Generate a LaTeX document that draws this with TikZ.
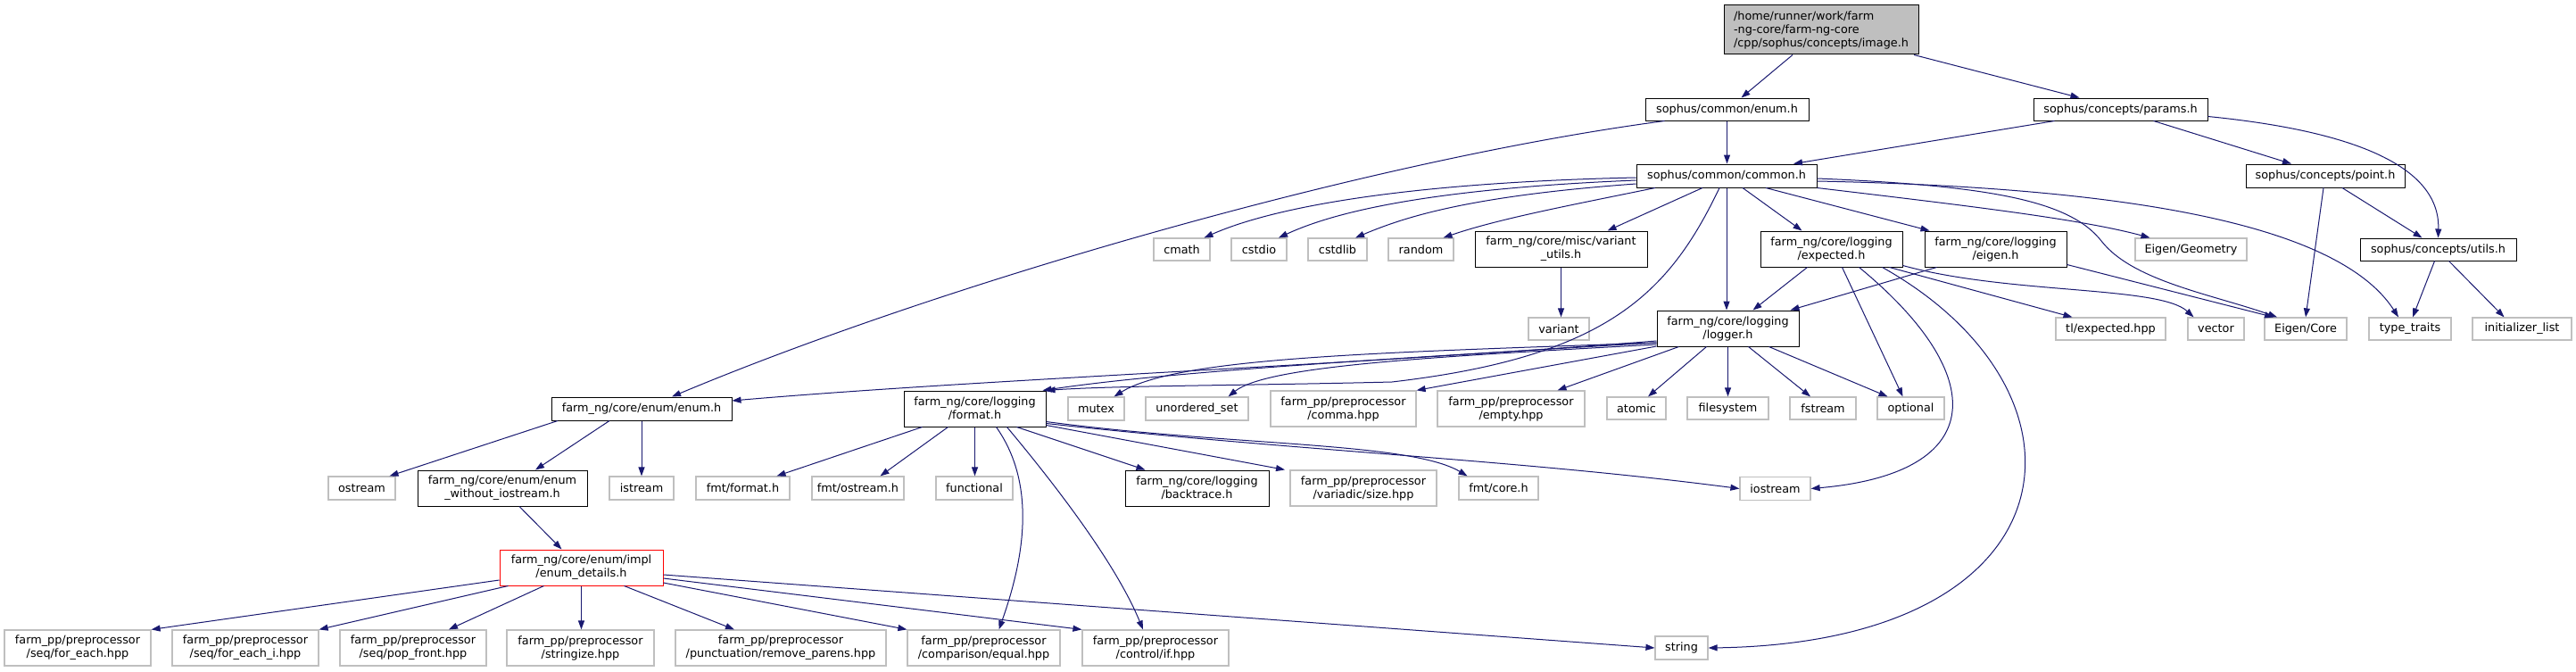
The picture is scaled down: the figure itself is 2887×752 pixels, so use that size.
\documentclass[tikz,border=0pt]{standalone}
\usepackage{fontspec}
\setmainfont{DejaVu Sans}
\usetikzlibrary{arrows.meta}
\definecolor{edgecol}{HTML}{191970}
\definecolor{graybd}{HTML}{BFBFBF}
\definecolor{rootfill}{HTML}{BFBFBF}
\newcommand\nodefont{\fontsize{12.8}{15}\selectfont}
\tikzset{
  base/.style={rectangle, inner sep=0pt, font=\nodefont, align=center, fill=white, line width=1pt},
  doc/.style={base, draw=black},
  ext/.style={base, draw=graybd, line width=1.2pt},
  redbox/.style={base, draw=red},
  rootbox/.style={base, draw=black, fill=rootfill, align=left},
  e/.style={draw=edgecol, line width=1pt, -{Triangle[length=10pt,width=7pt]}},
}
\begin{document}
\begin{tikzpicture}[x=1pt,y=-1pt]
\useasboundingbox (0,0) rectangle (2887,752);
\fill[white] (0,0) rectangle (2887,752);
% ---- nodes ----
\node[rootbox, minimum width=218, minimum height=55] (root) at (2041,33.5) {/home/runner/work/farm\\-ng-core/farm-ng-core\\/cpp/sophus/concepts/image.h};
\node[doc, minimum width=183, minimum height=25] (senum) at (1935.5,122.5) {sophus/common/enum.h};
\node[doc, minimum width=195, minimum height=25] (params) at (2376.5,122.5) {sophus/concepts/params.h};
\node[doc, minimum width=202, minimum height=26] (common) at (1935,197) {sophus/common/common.h};
\node[doc, minimum width=178, minimum height=26] (point) at (2606,197) {sophus/concepts/point.h};
\node[ext, minimum width=63, minimum height=25] (cmath) at (1324.5,279.5) {cmath};
\node[ext, minimum width=62, minimum height=25] (cstdio) at (1411,279.5) {cstdio};
\node[ext, minimum width=66, minimum height=25] (cstdlib) at (1499,279.5) {cstdlib};
\node[ext, minimum width=73, minimum height=25] (random) at (1592.5,279.5) {random};
\node[doc, minimum width=193, minimum height=40] (varutils) at (1749.5,279) {farm\_ng/core/misc/variant\\\_utils.h};
\node[doc, minimum width=159, minimum height=40] (expected) at (2052.5,279) {farm\_ng/core/logging\\/expected.h};
\node[doc, minimum width=159, minimum height=40] (eigenh) at (2236.5,279) {farm\_ng/core/logging\\/eigen.h};
\node[ext, minimum width=125, minimum height=25] (geometry) at (2455.5,279.5) {Eigen/Geometry};
\node[doc, minimum width=175, minimum height=25] (utils) at (2732.5,279.5) {sophus/concepts/utils.h};
\node[ext, minimum width=68, minimum height=25] (variant) at (1747,368.5) {variant};
\node[doc, minimum width=159, minimum height=40] (logger) at (1936.5,368) {farm\_ng/core/logging\\/logger.h};
\node[ext, minimum width=123, minimum height=25] (tlexp) at (2365.5,368.5) {tl/expected.hpp};
\node[ext, minimum width=63, minimum height=25] (vector) at (2483.5,368.5) {vector};
\node[ext, minimum width=92, minimum height=25] (eigencore) at (2584,368.5) {Eigen/Core};
\node[ext, minimum width=92, minimum height=25] (typetraits) at (2701,368.5) {type\_traits};
\node[ext, minimum width=111, minimum height=25] (initlist) at (2826.5,368.5) {initializer\_list};
\node[doc, minimum width=202, minimum height=26] (fenum) at (719,458) {farm\_ng/core/enum/enum.h};
\node[doc, minimum width=159, minimum height=40] (format) at (1092.5,458) {farm\_ng/core/logging\\/format.h};
\node[ext, minimum width=63, minimum height=26] (mutex) at (1228.5,458) {mutex};
\node[ext, minimum width=115, minimum height=26] (uset) at (1341.5,458) {unordered\_set};
\node[ext, minimum width=163, minimum height=40] (comma) at (1505.5,458) {farm\_pp/preprocessor\\/comma.hpp};
\node[ext, minimum width=165, minimum height=40] (empty) at (1693.5,458) {farm\_pp/preprocessor\\/empty.hpp};
\node[ext, minimum width=66, minimum height=25] (atomic) at (1834,457.5) {atomic};
\node[ext, minimum width=91, minimum height=25] (filesystem) at (1936.5,457.5) {filesystem};
\node[ext, minimum width=74, minimum height=25] (fstream) at (2043,457.5) {fstream};
\node[ext, minimum width=75, minimum height=25] (optional) at (2141.5,457.5) {optional};
\node[ext, minimum width=75, minimum height=26] (ostream) at (405.5,547) {ostream};
\node[doc, minimum width=190, minimum height=40] (ewi) at (563,547) {farm\_ng/core/enum/enum\\\_without\_iostream.h};
\node[ext, minimum width=72, minimum height=26] (istream) at (719,547) {istream};
\node[ext, minimum width=105, minimum height=26] (fmtformat) at (832.5,547) {fmt/format.h};
\node[ext, minimum width=103, minimum height=26] (fmtostream) at (961.5,547) {fmt/ostream.h};
\node[ext, minimum width=86, minimum height=26] (functional) at (1092,547) {functional};
\node[doc, minimum width=161, minimum height=40] (backtrace) at (1341.5,547) {farm\_ng/core/logging\\/backtrace.h};
\node[ext, minimum width=164, minimum height=40] (vsize) at (1528,547) {farm\_pp/preprocessor\\/variadic/size.hpp};
\node[ext, minimum width=89, minimum height=26] (fmtcore) at (1679.5,547) {fmt/core.h};
\node[ext, minimum width=79, minimum height=26] (iostream) at (1989.5,547.5) {iostream};
\node[redbox, minimum width=183, minimum height=40] (details) at (651.5,636) {farm\_ng/core/enum/impl\\/enum\_details.h};
\node[ext, minimum width=164, minimum height=40] (foreach) at (87,726) {farm\_pp/preprocessor\\/seq/for\_each.hpp};
\node[ext, minimum width=164, minimum height=40] (foreachi) at (275,726) {farm\_pp/preprocessor\\/seq/for\_each\_i.hpp};
\node[ext, minimum width=164, minimum height=40] (popfront) at (463,726) {farm\_pp/preprocessor\\/seq/pop\_front.hpp};
\node[ext, minimum width=165, minimum height=40] (stringize) at (650.5,726) {farm\_pp/preprocessor\\/stringize.hpp};
\node[ext, minimum width=236, minimum height=40] (removeparens) at (875,726) {farm\_pp/preprocessor\\/punctuation/remove\_parens.hpp};
\node[ext, minimum width=171, minimum height=40] (equal) at (1102.5,726) {farm\_pp/preprocessor\\/comparison/equal.hpp};
\node[ext, minimum width=164, minimum height=40] (ifhpp) at (1295,726) {farm\_pp/preprocessor\\/control/if.hpp};
\node[ext, minimum width=59, minimum height=26] (string) at (1884.5,726) {string};
% ---- edges ----
\draw[e] ([xshift=-32]root.south) -- ([xshift=16]senum.north);
\draw[e] ([xshift=104]root.south) -- ([xshift=-46]params.north);
\draw[e] (senum.south) -- (senum.south |- common.north);
\draw[e] ([xshift=-70]senum.south) .. controls (1530,180) and (1050,320) .. ([xshift=34]fenum.north);
\draw[e] ([xshift=-74]params.south) -- ([xshift=75]common.north);
\draw[e] ([xshift=37]params.south) -- ([xshift=-38]point.north);
\draw[e] ([yshift=-8]params.east) .. controls (2620,145) and (2735,180) .. (utils.north);
\draw[e] ([xshift=19]point.south) -- ([xshift=-18]utils.north);
\draw[e] ([xshift=-2]point.south) -- (eigencore.north);
\draw[e] ([xshift=-4]utils.south) -- ([xshift=3]typetraits.north);
\draw[e] ([xshift=12]utils.south) -- ([xshift=-20]initlist.north);
% common
\draw[e] ([yshift=-2]common.west) .. controls (1560,205) and (1420,235) .. ([xshift=25]cmath.north);
\draw[e] ([yshift=-5]common.west) .. controls (1590,212) and (1490,240) .. ([xshift=22]cstdio.north);
\draw[e] ([yshift=-9]common.west) .. controls (1640,220) and (1570,245) .. ([xshift=20]cstdlib.north);
\draw[e] ([xshift=-80]common.south) .. controls (1760,230) and (1680,245) .. ([xshift=25]random.north);
\draw[e] ([xshift=-27]common.south) -- ([xshift=52]varutils.north);
\draw[e] (common.south) -- (common.south |- logger.north);
\draw[e] ([xshift=18]common.south) -- ([xshift=-33]expected.north);
\draw[e] ([xshift=44]common.south) -- ([xshift=-74]eigenh.north);
\draw[e] (common.south east) .. controls (2200,230) and (2330,245) .. ([xshift=-46]geometry.north);
\draw[e] ([yshift=-3]common.east) .. controls (2230,208) and (2320,225) .. (2355,270) .. controls (2390,315) and (2480,330) .. ([xshift=-32]eigencore.north);
\draw[e] ([yshift=-6]common.east) .. controls (2380,210) and (2620,250) .. ([xshift=-13]typetraits.north);
\draw[e] ([xshift=-8]common.south) .. controls (1870,330) and (1800,400) .. (1560,428) .. controls (1400,432) and (1250,432) .. (format.north east);
\draw[e] (varutils.south) -- (varutils.south |- variant.north);
% expected / eigen
\draw[e] ([xshift=-27]expected.south) -- ([xshift=28]logger.north);
\draw[e] ([xshift=-66]eigenh.south) -- ([xshift=70]logger.north);
\draw[e] ([yshift=3]eigenh.south east) -- ([xshift=-36]eigencore.north);
\draw[e] ([xshift=65]expected.south) -- ([xshift=-43]tlexp.north);
\draw[e] ([yshift=2]expected.south east) .. controls (2250,330) and (2420,320) .. ([xshift=-25]vector.north);
\draw[e] ([xshift=12]expected.south) -- ([xshift=-9]optional.north);
\draw[e] ([xshift=31]expected.south) .. controls (2230,420) and (2230,530) .. (iostream.east);
\draw[e] ([xshift=57]expected.south) .. controls (2360,440) and (2330,720) .. (string.east);
% logger
\draw[e] ([yshift=-14]logger.west) .. controls (1500,410) and (1100,425) .. ([yshift=9]fenum.east);
\draw[e] ([yshift=-16]logger.west) .. controls (1500,405) and (1300,418) .. ([xshift=-4]format.north east);
\draw[e] ([yshift=-16]logger.west) .. controls (1550,395) and (1320,400) .. ([xshift=20]mutex.north);
\draw[e] ([yshift=-18]logger.west) .. controls (1600,400) and (1420,410) .. ([xshift=35]uset.north);
\draw[e] ([yshift=-20]logger.west) -- (comma.north east);
\draw[e] ([xshift=-55]logger.south) -- ([xshift=52]empty.north);
\draw[e] ([xshift=-24]logger.south) -- ([xshift=13]atomic.north);
\draw[e] (logger.south) -- (logger.south |- filesystem.north);
\draw[e] ([xshift=23]logger.south) -- ([xshift=-14]fstream.north);
\draw[e] ([xshift=46]logger.south) -- ([xshift=-26]optional.north);
% format
\draw[e] ([xshift=-59]format.south) -- ([xshift=38]fmtformat.north);
\draw[e] ([xshift=-30]format.south) -- ([xshift=25]fmtostream.north);
\draw[e] (format.south) -- (format.south |- functional.north);
\draw[e] ([xshift=47]format.south) -- ([xshift=-58]backtrace.north);
\draw[e] ([yshift=2]format.south east) -- ([xshift=-88]vsize.north);
\draw[e] ([yshift=6]format.south east) .. controls (1380,500) and (1580,495) .. ([xshift=-35]fmtcore.north);
\draw[e] ([yshift=4]format.south east) .. controls (1450,505) and (1700,515) .. (iostream.west);
\draw[e] ([xshift=24]format.south) .. controls (1160,540) and (1150,620) .. ([xshift=17]equal.north);
\draw[e] ([xshift=36]format.south) .. controls (1180,540) and (1250,630) .. ([xshift=-14]ifhpp.north);
% farm_ng enum
\draw[e] ([xshift=-94]fenum.south) -- ([xshift=31]ostream.north);
\draw[e] ([xshift=-36]fenum.south) -- ([xshift=37]ewi.north);
\draw[e] (fenum.south) -- (fenum.south |- istream.north);
\draw[e] ([xshift=19]ewi.south) -- ([xshift=-22]details.north);
% details
\draw[e] ([yshift=-14]details.west) -- (foreach.north east);
\draw[e] ([xshift=-82]details.south) -- (foreachi.north east);
\draw[e] ([xshift=-42]details.south) -- ([xshift=40]popfront.north);
\draw[e] (details.south) -- (details.south |- stringize.north);
\draw[e] ([xshift=48]details.south) -- ([xshift=-52]removeparens.north);
\draw[e] ([yshift=-17]details.east) -- (equal.north west);
\draw[e] ([yshift=-12]details.east) -- (ifhpp.north west);
\draw[e] ([yshift=-8]details.east) -- (string.west);
\end{tikzpicture}
\end{document}
